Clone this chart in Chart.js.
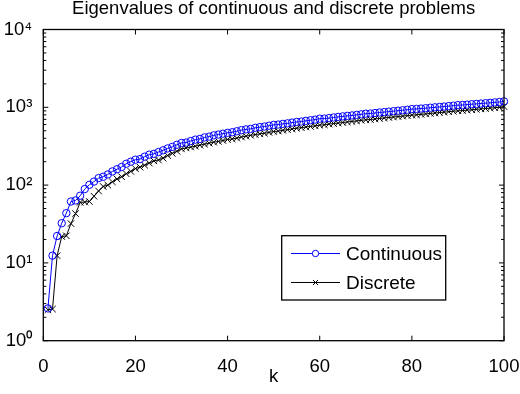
<!DOCTYPE html>
<html><head><meta charset="utf-8">
<script src="https://cdn.jsdelivr.net/npm/chart.js@4/dist/chart.umd.min.js"></script>
<style>html,body{margin:0;padding:0;background:#fff}#wrap{width:520px;height:394px;position:relative}</style>
</head><body><div id="wrap"><canvas id="c" width="520" height="394"></canvas></div>
<script>
// ---- data ----
const kValues = Array.from({length: 100}, (_, i) => i + 1);
const continuous = [
  2.6, 12.4, 22.2, 32.4, 43.6, 61.5, 63.5, 73, 89, 101,
  111, 123, 128, 137, 150, 160, 171, 188, 200, 212,
  216, 232, 246, 252, 266, 280, 296, 310, 330, 348,
  352, 368, 384, 392, 410, 420, 436, 446, 458, 470,
  478, 492, 508, 520, 528, 545, 556, 566, 580, 594,
  600, 612, 622, 636, 648, 656, 670, 682, 694, 714,
  716, 726, 740, 752, 764, 776, 786, 798, 812, 828,
  832, 844, 858, 868, 880, 892, 904, 916, 930, 948,
  952, 964, 974, 988, 1000, 1010, 1022, 1036, 1050, 1066,
  1070, 1082, 1096, 1106, 1118, 1130, 1142, 1156, 1170, 1192
];
const discrete = [
  2.5, 2.55, 12.4, 21.8, 22.3, 32, 43, 60, 60.5, 61.5,
  72, 84, 96, 100, 110, 120, 128, 140, 150, 163,
  170, 180, 192, 205, 210, 222, 240, 256, 272, 292,
  300, 308, 316, 326, 336, 346, 356, 364, 374, 386,
  392, 402, 415, 425, 436, 446, 456, 464, 476, 488,
  494, 506, 516, 528, 538, 548, 558, 568, 578, 590,
  596, 608, 618, 628, 638, 648, 658, 668, 680, 690,
  696, 708, 718, 730, 740, 750, 760, 770, 782, 794,
  800, 812, 822, 834, 844, 856, 866, 878, 890, 900,
  908, 920, 930, 942, 954, 964, 976, 988, 1000, 1022
];
const seriesNames = ['Continuous', 'Discrete'];
const xTicks = [0, 20, 40, 60, 80, 100];
const yDecades = [1, 10, 100, 1000, 10000];
const yTickLabels = ['10\u2070', '10\u00B9', '10\u00B2', '10\u00B3', '10\u2074'];
const titleText = 'Eigenvalues of continuous and discrete problems';
const xTitle = 'k';

const FONT = "'Liberation Sans', Arial, Helvetica, sans-serif";
const legendMarkerRadius = [3.2, 3.6];

const boxPlugin = {
  id: 'matlabBox',
  afterDatasetsDraw(chart) {
    const {ctx, chartArea: a, scales: {x, y}} = chart;
    ctx.save();
    ctx.strokeStyle = '#000';
    ctx.lineWidth = 1.3;
    ctx.strokeRect(a.left, a.top, a.right - a.left, a.bottom - a.top);
    ctx.lineWidth = 1;
    ctx.beginPath();
    xTicks.forEach(v => {
      const px = x.getPixelForValue(v);
      ctx.moveTo(px, a.bottom); ctx.lineTo(px, a.bottom - 5);
      ctx.moveTo(px, a.top); ctx.lineTo(px, a.top + 5);
    });
    yDecades.forEach((d, i) => {
      const py = y.getPixelForValue(d);
      ctx.moveTo(a.left, py); ctx.lineTo(a.left + 5, py);
      ctx.moveTo(a.right, py); ctx.lineTo(a.right - 5, py);
      if (i < yDecades.length - 1) {
        for (let m = 2; m <= 9; m++) {
          const pm = y.getPixelForValue(m * d);
          ctx.moveTo(a.left, pm); ctx.lineTo(a.left + 3, pm);
          ctx.moveTo(a.right, pm); ctx.lineTo(a.right - 3, pm);
        }
      }
    });
    ctx.stroke();

    // legend
    const lx = 281.7, ly = 235.7, lw = 164, lh = 64.3;
    ctx.fillStyle = '#fff';
    ctx.fillRect(lx, ly, lw, lh);
    ctx.lineWidth = 1.3;
    ctx.strokeStyle = '#000';
    ctx.strokeRect(lx, ly, lw, lh);
    const rows = [253.5, 282.5];
    chart.data.datasets.forEach((ds, i) => {
      const yy = rows[i];
      ctx.strokeStyle = ds.borderColor;
      ctx.lineWidth = 1;
      ctx.beginPath();
      ctx.moveTo(291, yy); ctx.lineTo(340, yy);
      ctx.stroke();
      ctx.fillStyle = '#fff';
      Chart.helpers.drawPoint(ctx, {pointStyle: ds.pointStyle, radius: legendMarkerRadius[i], rotation: 0, borderWidth: 1}, 315.5, yy);
      ctx.fillStyle = '#000';
      ctx.font = '19px ' + FONT;
      ctx.textAlign = 'left';
      ctx.textBaseline = 'middle';
      ctx.fillText(ds.label, 346, yy + 1);
    });
    ctx.restore();
  }
};

new Chart(document.getElementById('c'), {
  type: 'line',
  data: {
    datasets: [
      {
        label: seriesNames[0],
        data: kValues.map((k, i) => ({x: k, y: continuous[i]})),
        borderColor: '#0000ff', borderWidth: 1,
        pointStyle: 'circle', pointRadius: 3.7,
        pointBorderColor: '#0000ff', pointBackgroundColor: 'rgba(0,0,0,0)',
        pointBorderWidth: 1, tension: 0, clip: false
      },
      {
        label: seriesNames[1],
        data: kValues.map((k, i) => ({x: k, y: discrete[i]})),
        borderColor: '#000000', borderWidth: 1,
        pointStyle: 'crossRot', pointRadius: 4.6,
        pointBorderColor: '#000000', pointBackgroundColor: 'rgba(0,0,0,0)',
        pointBorderWidth: 1, tension: 0, clip: false
      }
    ]
  },
  options: {
    responsive: false, animation: false, devicePixelRatio: 1,
    layout: {padding: {left: 0, right: 16, top: 0, bottom: 0}},
    plugins: {
      legend: {display: false},
      tooltip: {enabled: false},
      title: {
        display: true, text: titleText, fullSize: false, color: '#000',
        font: {family: FONT, size: 18.5, weight: 'normal', lineHeight: 1},
        padding: {top: 0, bottom: 11}
      }
    },
    scales: {
      x: {
        type: 'linear', min: 0, max: 100,
        afterBuildTicks(s) { s.ticks = xTicks.map(v => ({value: v})); },
        ticks: {color: '#000', font: {family: FONT, size: 18.5}, padding: 7, maxRotation: 0, autoSkip: false},
        grid: {display: false}, border: {display: false},
        title: {display: true, text: xTitle, color: '#000', font: {family: FONT, size: 18.5, lineHeight: 1.2}, padding: {top: 0, bottom: 6}},
        afterFit(s) { s.height = 53.3; s.paddingLeft = 0; s.paddingRight = 0; }
      },
      y: {
        type: 'logarithmic', min: 1, max: 10000,
        afterBuildTicks(s) { s.ticks = yDecades.map(v => ({value: v})); },
        ticks: {
          color: '#000', font: {family: FONT, size: 18.5}, padding: 3, autoSkip: false,
          callback: (v) => { const i = yDecades.indexOf(v); return i >= 0 ? yTickLabels[i] : ''; }
        },
        grid: {display: false}, border: {display: false},
        afterFit(s) { s.width = 43.3; s.paddingTop = 0; s.paddingBottom = 0; }
      }
    }
  },
  plugins: [boxPlugin]
});
</script></body></html>
